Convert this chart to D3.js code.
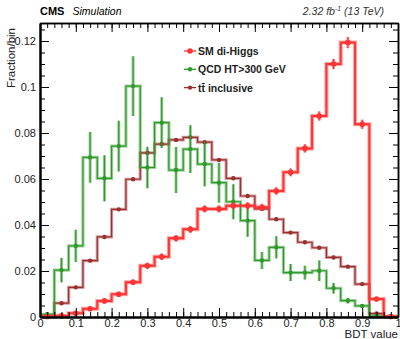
<!DOCTYPE html>
<html>
<head>
<meta charset="utf-8">
<script src="https://cdn.jsdelivr.net/npm/d3@7"></script>
<style>
  body { margin: 0; background: #fff; }
  svg text { font-family: "Liberation Sans", Arial, Helvetica, sans-serif; }
</style>
</head>
<body>
<div id="plot"></div>
<script>
const CANVAS_WIDTH  = 400;
const CANVAS_HEIGHT = 339;
const LEFT   = 40;
const RIGHT  = 398;
const TOP    = 23;
const BOTTOM = 317;

// 25 bins of 0.04 on [0, 1]
var binEdges = d3.range(0, 26).map(function(i) { return +(i * 0.04).toFixed(2); });

var hhValues  = [0.0002, 0.0005, 0.0016, 0.0036, 0.0070, 0.0099, 0.0151, 0.0223, 0.0262, 0.0342,
                 0.0381, 0.0470, 0.0470, 0.0484, 0.0484, 0.0477, 0.0548, 0.0629, 0.0733, 0.0874,
                 0.1100, 0.1193, 0.0838, 0.0078, 0.0002];
var hhErrors  = [0.0003, 0.0004, 0.0006, 0.0008, 0.0010, 0.0011, 0.0012, 0.0013, 0.0014, 0.0014,
                 0.0015, 0.0015, 0.0015, 0.0015, 0.0015, 0.0015, 0.0016, 0.0017, 0.0018, 0.0020,
                 0.0022, 0.0024, 0.0020, 0.0008, 0.0002];

var qcdValues = [0.0012, 0.0204, 0.0309, 0.0694, 0.0603, 0.0743, 0.1004, 0.0650, 0.0845, 0.0639,
                 0.0730, 0.0665, 0.0584, 0.0501, 0.0419, 0.0246, 0.0303, 0.0193, 0.0193, 0.0201,
                 0.0125, 0.0071, 0.0048, 0.0004, 0.0000];
var qcdErrors = [0.0008, 0.0053, 0.0070, 0.0110, 0.0100, 0.0110, 0.0130, 0.0090, 0.0110, 0.0100,
                 0.0104, 0.0097, 0.0087, 0.0076, 0.0070, 0.0037, 0.0048, 0.0037, 0.0030, 0.0045,
                 0.0023, 0.0012, 0.0008, 0.0003, 0.0000];

var ttValues  = [0.0004, 0.0060, 0.0129, 0.0245, 0.0348, 0.0468, 0.0599, 0.0714, 0.0752, 0.0770,
                 0.0781, 0.0760, 0.0683, 0.0603, 0.0526, 0.0470, 0.0425, 0.0367, 0.0325, 0.0301,
                 0.0259, 0.0219, 0.0143, 0.0015, 0.0001];

var xTicks = [0, 0.1, 0.2, 0.3, 0.4, 0.5, 0.6, 0.7, 0.8, 0.9, 1];
var yTicks = [0, 0.02, 0.04, 0.06, 0.08, 0.1, 0.12];

var series = [
    { name: "SM di-Higgs",     values: hhValues,  errors: hhErrors,  color: "#ff3535", width: 2, r: 2.8, cross: true },
    { name: "QCD HT>300 GeV",  values: qcdValues, errors: qcdErrors, color: "#2e9a2a", width: 1.2, r: 2.2, cross: false },
    { name: "t\u0074\u0304 inclusive", values: ttValues, errors: null, color: "#9b2f2f", width: 1.2, r: 2.2, cross: false }
];

var svg = d3.select("#plot")
            .append("svg")
            .attr("width", CANVAS_WIDTH)
            .attr("height", CANVAS_HEIGHT);

var xScale = d3.scaleLinear().domain([0, 1]).range([LEFT, RIGHT]);
var yScale = d3.scaleLinear().domain([0, (BOTTOM - TOP) / 2300]).range([BOTTOM, TOP]);

function stepPoints(values) {
    var pts = [];
    values.forEach(function(v, i) {
        pts.push([binEdges[i], v]);
        pts.push([binEdges[i + 1], v]);
    });
    return pts;
}

var stepLine = d3.line()
                 .x(function(d) { return xScale(d[0]); })
                 .y(function(d) { return yScale(d[1]); });

// draw order: ttbar, qcd, hh on top
[series[2], series[1], series[0]].forEach(function(s) {
    var g = svg.append("g");
    var pts = stepPoints(s.values);

    // soft wide band under the thin line
    g.append("path")
     .attr("d", stepLine(pts))
     .attr("fill", "none")
     .attr("stroke", s.color)
     .attr("stroke-opacity", 0.45)
     .attr("stroke-width", s.width + 2);

    g.append("path")
     .attr("d", stepLine(pts))
     .attr("fill", "none")
     .attr("stroke", s.color)
     .attr("stroke-width", s.width);

    var centers = s.values.map(function(v, i) {
        return { x: (binEdges[i] + binEdges[i + 1]) / 2, v: v, e: s.errors ? s.errors[i] : 0 };
    });

    if (s.errors) {
        g.selectAll(".errw")
         .data(centers)
         .enter()
         .append("line")
         .attr("x1", function(d) { return xScale(d.x); })
         .attr("x2", function(d) { return xScale(d.x); })
         .attr("y1", function(d) { return yScale(d.v - d.e); })
         .attr("y2", function(d) { return yScale(d.v + d.e); })
         .attr("stroke", s.color)
         .attr("stroke-opacity", 0.5)
         .attr("stroke-width", 3);

        g.selectAll(".err")
         .data(centers)
         .enter()
         .append("line")
         .attr("x1", function(d) { return xScale(d.x); })
         .attr("x2", function(d) { return xScale(d.x); })
         .attr("y1", function(d) { return yScale(d.v - d.e); })
         .attr("y2", function(d) { return yScale(d.v + d.e); })
         .attr("stroke", s.color)
         .attr("stroke-width", 1.2);
    }

    if (s.cross) {
        g.selectAll(".xerr")
         .data(centers)
         .enter()
         .append("line")
         .attr("x1", function(d) { return xScale(d.x) - 4; })
         .attr("x2", function(d) { return xScale(d.x) + 4; })
         .attr("y1", function(d) { return yScale(d.v); })
         .attr("y2", function(d) { return yScale(d.v); })
         .attr("stroke", s.color)
         .attr("stroke-width", 1.5);
    }

    g.selectAll("circle")
     .data(centers)
     .enter()
     .append("circle")
     .attr("cx", function(d) { return xScale(d.x); })
     .attr("cy", function(d) { return yScale(d.v); })
     .attr("r", s.r)
     .attr("fill", s.color);
});

// axes, ticks pointing inward
function minorTicks(lo, hi, step) {
    return d3.range(Math.round((hi - lo) / step) + 1).map(function(i) { return +(lo + i * step).toFixed(4); });
}
var xMinor = minorTicks(0, 1, 0.02);
var yMinor = minorTicks(0, 0.125, 0.005);

function drawAxis(axis, transform, strokeWidth, labels) {
    var g = svg.append("g")
               .attr("transform", transform)
               .call(axis);
    g.select(".domain").attr("stroke-width", strokeWidth);
    g.selectAll(".tick line").attr("stroke-width", 1);
    if (!labels) g.selectAll(".tick text").remove();
    return g;
}

drawAxis(d3.axisBottom(xScale).tickValues(xMinor).tickSize(-5).tickSizeOuter(0), "translate(0," + BOTTOM + ")", 2, false);
var xAx = drawAxis(d3.axisBottom(xScale).tickValues(xTicks).tickSize(-9).tickSizeOuter(0).tickFormat(d3.format("~g")),
                   "translate(0," + BOTTOM + ")", 2, true);
xAx.selectAll(".tick text").attr("y", 2).attr("dy", "0.71em").attr("font-size", 11).attr("fill", "#222");

drawAxis(d3.axisTop(xScale).tickValues(xMinor).tickSize(-5).tickSizeOuter(0), "translate(0," + TOP + ")", 1.5, false);
drawAxis(d3.axisTop(xScale).tickValues(xTicks).tickSize(-9).tickSizeOuter(0), "translate(0," + TOP + ")", 1.5, false);

drawAxis(d3.axisLeft(yScale).tickValues(yMinor).tickSize(-5).tickSizeOuter(0), "translate(" + LEFT + ",0)", 2, false);
var yAx = drawAxis(d3.axisLeft(yScale).tickValues(yTicks).tickSize(-9).tickSizeOuter(0).tickFormat(d3.format("~g")),
                   "translate(" + LEFT + ",0)", 2, true);
yAx.selectAll(".tick text").attr("x", -4).attr("font-size", 11).attr("fill", "#222");

drawAxis(d3.axisRight(yScale).tickValues(yMinor).tickSize(-5).tickSizeOuter(0), "translate(" + RIGHT + ",0)", 1.5, false);
drawAxis(d3.axisRight(yScale).tickValues(yTicks).tickSize(-9).tickSizeOuter(0), "translate(" + RIGHT + ",0)", 1.5, false);

svg.selectAll(".domain").attr("stroke", "#000");

// titles
svg.append("text")
   .attr("x", RIGHT)
   .attr("y", 337.5)
   .attr("text-anchor", "end")
   .attr("font-size", 11.5)
   .attr("fill", "#222")
   .text("BDT value");

svg.append("text")
   .attr("transform", "translate(15," + (TOP + 5) + ") rotate(-90)")
   .attr("text-anchor", "end")
   .attr("font-size", 11.5)
   .attr("fill", "#222")
   .text("Fraction/bin");

svg.append("text")
   .attr("x", LEFT)
   .attr("y", 15)
   .attr("font-size", 11)
   .attr("font-weight", "bold")
   .text("CMS");

svg.append("text")
   .attr("x", 72.5)
   .attr("y", 15)
   .attr("font-size", 10.5)
   .attr("font-style", "italic")
   .text("Simulation");

var lumi = svg.append("text")
              .attr("x", 384)
              .attr("y", 15)
              .attr("text-anchor", "end")
              .attr("font-size", 10.5)
              .attr("font-style", "italic")
              .attr("fill", "#333");
lumi.append("tspan").text("2.32 fb");
lumi.append("tspan").attr("font-size", 7).attr("dy", -4).text("-1");
lumi.append("tspan").attr("dy", 4).text(" (13 TeV)");

// legend
var legend = svg.append("g");
series.forEach(function(s, i) {
    var ly = 51 + i * 18.3;
    legend.append("line")
          .attr("x1", 184).attr("x2", 196)
          .attr("y1", ly).attr("y2", ly)
          .attr("stroke", s.color)
          .attr("stroke-width", 1.3);
    legend.append("circle")
          .attr("cx", 190).attr("cy", ly)
          .attr("r", s.r)
          .attr("fill", s.color);
    legend.append("text")
          .attr("x", 198)
          .attr("y", ly + 4)
          .attr("font-size", 10.5)
          .attr("font-weight", "bold")
          .attr("fill", "#222")
          .text(s.name);
});
</script>
</body>
</html>
